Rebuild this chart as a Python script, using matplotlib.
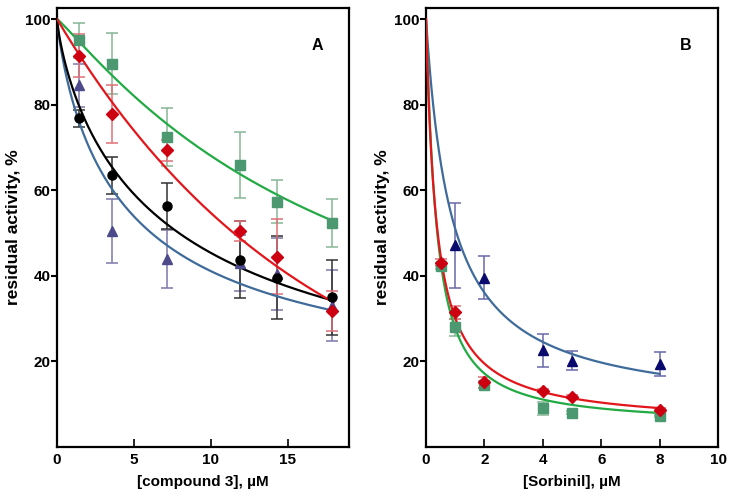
import numpy as np
import matplotlib.pyplot as plt

plt.rcParams['font.family'] = ['Liberation Sans', 'DejaVu Sans']
plt.rcParams['font.weight'] = 'bold'

# panel A: compound 3
conc_a = [1.43, 3.57, 7.14, 11.9, 14.3, 17.9]
green_a = [95.0, 89.6, 72.5, 65.8, 57.3, 52.4]
green_a_err = [4.2, 7.1, 6.8, 7.7, 5.0, 5.6]
red_a = [91.4, 77.8, 69.3, 50.5, 44.5, 31.7]
red_a_err = [5.0, 6.8, 2.5, 2.3, 8.8, 4.7]
black_a = [76.8, 63.5, 56.3, 43.8, 39.6, 35.0]
black_a_err = [2.0, 4.3, 5.3, 9.0, 9.6, 8.8]
blue_a = [84.5, 50.5, 44.0, 43.0, 40.5, 33.0]
blue_a_err = [5.0, 7.5, 6.8, 6.5, 8.4, 8.3]

# panel B: Sorbinil
conc_b = [0.5, 1, 2, 4, 5, 8]
red_b = [43.1, 31.5, 15.1, 13.2, 11.8, 8.6]
red_b_err = [0.8, 1.5, 1.2, 0.3, 0.3, 0.4]
green_b = [42.3, 28.0, 14.6, 9.0, 8.0, 7.2]
green_b_err = [0.7, 2.0, 0.8, 1.5, 0.3, 0.3]
conc_b_blue = [1, 2, 4, 5, 8]
blue_b = [47.1, 39.6, 22.6, 20.2, 19.3]
blue_b_err = [10.0, 5.0, 3.8, 2.2, 2.8]

# fitted curves: ('hill', bottom, IC50, hill) or ('exp', bottom, k)
fit_green_a = ('hill', 0, 19.9, 1.1)
fit_red_a = ('exp', 0, 0.0603)
fit_black_a = ('hill', 0, 7.93, 0.8)
fit_blue_a = ('hill', 10, 4.72, 0.85)
fit_blue_b = ('hill', 8, 0.877, 1.0)
fit_red_b = ('hill', 5, 0.36, 1.0)
fit_green_b = ('hill', 5, 0.35, 1.1)


def fit_curve(x, p):
    if p[0] == 'exp':
        b, k = p[1:]
        return b + (100 - b) * np.exp(-k * x)
    b, c, h = p[1:]
    return b + (100 - b) / (1 + (x / c) ** h)


fig = plt.figure(figsize=(7.33, 4.97), dpi=100)
ax1 = fig.add_axes([0.0778, 0.1006, 0.3984, 0.8834])
ax2 = fig.add_axes([0.5812, 0.1006, 0.3984, 0.8834])


def add_series(ax, x, y, err, fit, xmax, line_c, mark_c, err_c, marker, ms):
    xs = np.linspace(0, xmax, 400)
    ax.plot(xs, fit_curve(xs, fit), color=line_c, lw=1.6, zorder=3)
    ax.errorbar(x, y, yerr=err, fmt='none', ecolor=err_c, elinewidth=1.1,
                capsize=4, capthick=1.1, zorder=2)
    ax.plot(x, y, ls='none', marker=marker, ms=ms, color=mark_c,
            mec=mark_c, zorder=4)


add_series(ax1, conc_a, green_a, green_a_err, fit_green_a, 18.0,
           '#22aa44', '#4c9870', '#86b696', 's', 6.5)
add_series(ax1, conc_a, blue_a, blue_a_err, fit_blue_a, 18.0,
           '#3f6b9b', '#4c4a8a', '#7a78a8', '^', 6.5)
add_series(ax1, conc_a, black_a, black_a_err, fit_black_a, 18.0,
           '#000000', '#000000', '#333333', 'o', 6.5)
add_series(ax1, conc_a, red_a, red_a_err, fit_red_a, 18.0,
           '#e3161c', '#cc0011', '#e07078', 'D', 6)

add_series(ax2, conc_b_blue, blue_b, blue_b_err, fit_blue_b, 8.0,
           '#3f6b9b', '#0a0a6e', '#6a68aa', '^', 6.5)
add_series(ax2, conc_b, green_b, green_b_err, fit_green_b, 8.0,
           '#22aa44', '#4c9870', '#86b696', 's', 6.5)
add_series(ax2, conc_b, red_b, red_b_err, fit_red_b, 8.0,
           '#e3161c', '#cc0011', '#e07078', 'D', 6)

for ax, xlim, xticks, xlabel, letter in [
        (ax1, 19, [0, 5, 10, 15], '[compound 3], µM', 'A'),
        (ax2, 10, [0, 2, 4, 6, 8, 10], '[Sorbinil], µM', 'B')]:
    ax.set_xlim(0, xlim)
    ax.set_ylim(0, 102.6)
    ax.set_xticks(xticks)
    ax.set_yticks([20, 40, 60, 80, 100])
    ax.tick_params(axis='y', direction='out', length=4, width=1.5,
                   labelsize=11, pad=0.5)
    ax.tick_params(axis='x', direction='in', length=6, width=1.2,
                   labelsize=11, pad=4)
    for lab in ax.get_xticklabels() + ax.get_yticklabels():
        lab.set_fontweight('bold')
    for sp in ax.spines.values():
        sp.set_linewidth(1.6)
    ax.set_xlabel(xlabel, fontsize=11, fontweight='bold', labelpad=6)
    ax.set_ylabel('residual activity, %', fontsize=12.5, fontweight='bold',
                  labelpad=3)
    ax.text(0.89, 0.915, letter, transform=ax.transAxes, fontsize=11.5,
            fontweight='bold', ha='center', va='center')

fig.savefig('out.png', dpi=100)
